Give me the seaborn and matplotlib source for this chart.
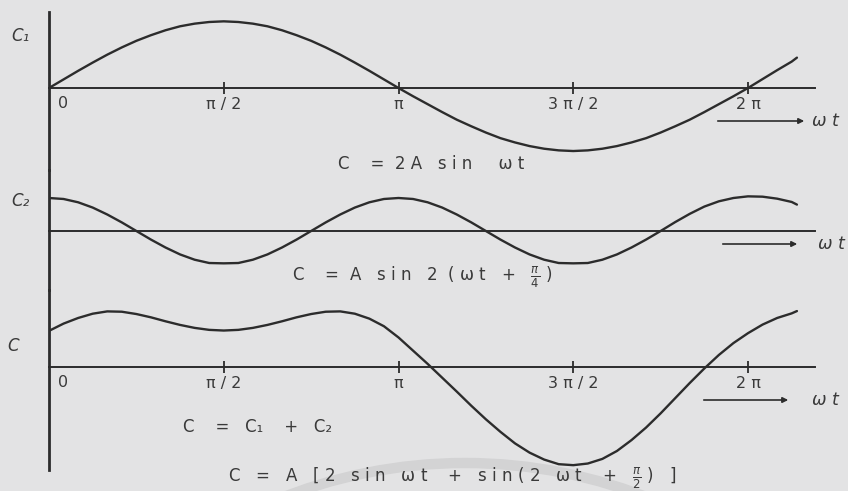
import numpy as np
import matplotlib
matplotlib.use("Agg")
import matplotlib.pyplot as plt
import seaborn as sns
from matplotlib.patches import Circle, FancyArrowPatch

sns.set_theme(style="white")
plt.rcParams["font.family"] = ["DejaVu Sans"]
plt.rcParams["mathtext.fontset"] = "dejavusans"

# ωt sample positions (steps of π/24, last one where the traces stop)
wt = [k * np.pi / 24 for k in range(52)] + [2.14 * np.pi]

# traces in units of A
c1 = [0.00, 0.26, 0.52, 0.77, 1.01, 1.23, 1.43, 1.60, 1.75, 1.87, 1.95, 2.00, 2.02,
      2.00, 1.95, 1.87, 1.75, 1.60, 1.43, 1.23, 1.01, 0.77, 0.52, 0.26, 0.00,
      -0.25, -0.49, -0.73, -0.96, -1.16, -1.35, -1.52, -1.65, -1.76, -1.84, -1.89, -1.91,
      -1.89, -1.84, -1.76, -1.65, -1.52, -1.35, -1.16, -0.96, -0.73, -0.49, -0.25, 0.00,
      0.27, 0.54, 0.80, 0.92]
c2 = [1.00, 0.97, 0.87, 0.71, 0.50, 0.26, 0.00, -0.26, -0.50, -0.71, -0.87, -0.97, -0.98,
      -0.97, -0.87, -0.71, -0.50, -0.26, 0.00, 0.26, 0.50, 0.71, 0.87, 0.97, 1.00,
      0.97, 0.87, 0.71, 0.50, 0.26, 0.00, -0.26, -0.50, -0.71, -0.87, -0.97, -0.98,
      -0.97, -0.87, -0.71, -0.50, -0.26, 0.00, 0.27, 0.52, 0.74, 0.90, 1.00, 1.05,
      1.04, 0.98, 0.88, 0.80]
c3 = [1.08, 1.30, 1.47, 1.60, 1.67, 1.66, 1.59, 1.49, 1.37, 1.26, 1.17, 1.11, 1.09,
      1.11, 1.17, 1.26, 1.37, 1.49, 1.59, 1.66, 1.67, 1.60, 1.45, 1.22, 0.88,
      0.48, 0.08, -0.34, -0.76, -1.19, -1.60, -1.98, -2.33, -2.61, -2.82, -2.96, -2.99,
      -2.94, -2.80, -2.56, -2.23, -1.85, -1.42, -0.96, -0.50, -0.06, 0.35, 0.71, 1.01,
      1.27, 1.47, 1.61, 1.68]

tick_pos = [np.pi / 2, np.pi, 3 * np.pi / 2, 2 * np.pi]
tick_txt = ["π / 2", "π", "3 π / 2", "2 π"]

W, H = 848, 491
BG = "#e3e3e4"
INK = "#2c2c2c"
TXT = "#3a3a3a"
PX_PER_RAD = 111.25
PX_PER_A = 33.0
X0 = 49  # pixel column of the vertical axis
XMAX = (W - X0) / PX_PER_RAD
AXIS_END = (815 - X0) / PX_PER_RAD

fig = plt.figure(figsize=(W / 100, H / 100), dpi=100, facecolor=BG)


def fpos(x, y):
    return x / W, 1 - y / H


# faint circular stamp behind the lower formula
bg_ax = fig.add_axes([0, 0, 1, 1], zorder=0)
bg_ax.set_xlim(0, W)
bg_ax.set_ylim(H, 0)
bg_ax.axis("off")
bg_ax.add_patch(Circle((465, 963), 500, fill=False, lw=7.5, color="#d3d3d4"))


def panel(top, bottom, base, values, ticks):
    ax = fig.add_axes([X0 / W, 1 - bottom / H, (W - X0) / W, (bottom - top) / H], zorder=2)
    ax.patch.set_visible(False)
    sns.lineplot(x=wt, y=values, ax=ax, color=INK, lw=1.7, sort=False)
    ax.set_xlim(0, XMAX)
    ax.set_ylim(-(bottom - base) / PX_PER_A, (base - top) / PX_PER_A)
    for s in ("top", "right"):
        ax.spines[s].set_visible(False)
    ax.spines["left"].set_color(INK)
    ax.spines["left"].set_linewidth(2.0)
    ax.spines["bottom"].set_position(("data", 0))
    ax.spines["bottom"].set_bounds(0, AXIS_END)
    ax.spines["bottom"].set_color(INK)
    ax.spines["bottom"].set_linewidth(1.4)
    ax.set_yticks([])
    ax.set_xlabel("")
    ax.set_ylabel("")
    if ticks:
        ax.set_xticks(tick_pos, labels=tick_txt)
        ax.tick_params(axis="x", bottom=True, direction="inout", length=9, width=1.3,
                       color=INK, labelsize=11.5, labelcolor=TXT, pad=2)
        ax.annotate("0", xy=(0, 0), xytext=(14, -16), textcoords="offset pixels",
                    ha="center", va="center", fontsize=11.5, color=TXT)
    else:
        ax.set_xticks([])
    return ax


ax1 = panel(12, 170, 88, c1, True)
ax2 = panel(170, 290, 231, c2, False)
ax3 = panel(290, 470, 366.5, c3, True)

# variable names beside the vertical axis
for label, x, y in [("C₁", 11, 36), ("C₂", 11, 201), ("C", 7, 346)]:
    fig.text(*fpos(x, y), label, ha="left", va="center", fontsize=12, color=TXT,
             style="italic")

# direction-of-time arrows
for x0, x1, y, xt in [(715, 807, 121, 812), (720, 800, 244, 818), (701, 791, 400, 812)]:
    fig.add_artist(FancyArrowPatch(
        fpos(x0, y), fpos(x1, y), transform=fig.transFigure, arrowstyle="-|>",
        mutation_scale=8, lw=1.2, color=INK))
    fig.text(*fpos(xt, y), "ω t", ha="left", va="center", fontsize=12.5, color=TXT,
             style="italic")

# equations
eqs = [
    ("C    =  2 A   s i n     ω t", 338, 164),
    ("C    =  A   s i n   2  ( ω t   +   $\\frac{\\pi}{4}$ )", 292, 277),
    ("C    =   C₁    +   C₂", 183, 427),
    ("C   =   A   [ 2   s i n   ω t    +   s i n ( 2   ω t    +   $\\frac{\\pi}{2}$ )   ]",
     228, 478),
]
for txt, x, y in eqs:
    fig.text(*fpos(x, y), txt, ha="left", va="center", fontsize=12, color=TXT)

fig.savefig("out.png", dpi=100, facecolor=BG)
